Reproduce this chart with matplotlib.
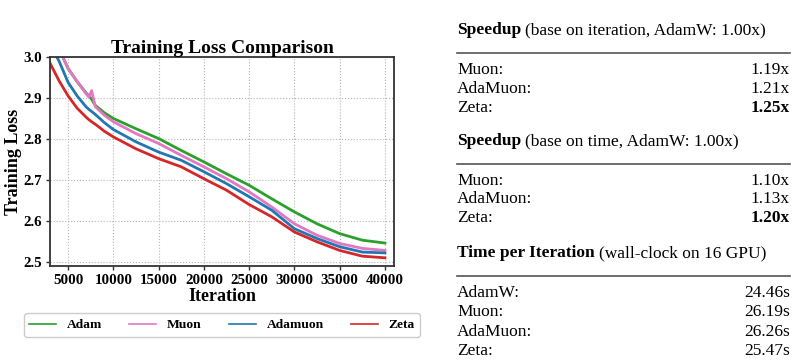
import matplotlib
matplotlib.use("Agg")
import matplotlib.pyplot as plt
from matplotlib.lines import Line2D

plt.rcParams['font.family'] = ['Liberation Serif', 'DejaVu Serif']

# ---------------- data ----------------
iterations = [3000, 4000, 5000, 6000, 7000, 7300, 7600, 8000, 9000, 10000, 12500, 15000,
              17500, 20000, 22500, 25000, 27500, 30000, 32500, 35000, 37500, 40000]
adam_loss = [3.09, 3.02, 2.972, 2.940, 2.912, 2.905, 2.897, 2.882, 2.864, 2.850, 2.825, 2.801,
             2.772, 2.744, 2.715, 2.687, 2.654, 2.622, 2.593, 2.569, 2.553, 2.546]
muon_loss = [3.09, 3.02, 2.972, 2.940, 2.910, 2.902, 2.918, 2.879, 2.858, 2.842, 2.813, 2.789,
             2.760, 2.732, 2.703, 2.671, 2.634, 2.593, 2.565, 2.545, 2.533, 2.528]
adamuon_loss = [3.03, 2.99, 2.938, 2.905, 2.878, 2.872, 2.867, 2.860, 2.840, 2.823, 2.793, 2.768,
                2.748, 2.720, 2.691, 2.659, 2.626, 2.581, 2.557, 2.537, 2.524, 2.522]
zeta_loss = [2.985, 2.942, 2.905, 2.875, 2.853, 2.847, 2.842, 2.836, 2.819, 2.805, 2.776, 2.752,
             2.732, 2.703, 2.675, 2.640, 2.610, 2.573, 2.549, 2.528, 2.514, 2.510]

series_names = ["Adam", "Muon", "Adamuon", "Zeta"]
series_colors = ["#2ca02c", "#e377c2", "#1f77b4", "#d62728"]
series_values = [adam_loss, muon_loss, adamuon_loss, zeta_loss]

x_ticks = [5000, 10000, 15000, 20000, 25000, 30000, 35000, 40000]
y_ticks = [2.5, 2.6, 2.7, 2.8, 2.9, 3.0]

speedup_iter_names = ["Muon:", "AdaMuon:", "Zeta:"]
speedup_iter_vals = ["1.19x", "1.21x", "1.25x"]
speedup_time_names = ["Muon:", "AdaMuon:", "Zeta:"]
speedup_time_vals = ["1.10x", "1.13x", "1.20x"]
time_names = ["AdamW:", "Muon:", "AdaMuon:", "Zeta:"]
time_vals = ["24.46s", "26.19s", "26.26s", "25.47s"]

W, H = 797, 362
fig = plt.figure(figsize=(W / 100, H / 100), dpi=100)

ax = fig.add_axes([50 / W, 1 - 266 / H, 344 / W, 209 / H])
for name, col, vals in zip(series_names, series_colors, series_values):
    ax.plot(iterations, vals, color=col, lw=2.0, solid_joinstyle='round')
ax.set_xlim(3000, 41000)
ax.set_ylim(2.49, 3.0)
ax.set_xticks(x_ticks)
ax.set_yticks(y_ticks)
ax.set_yticklabels([f"{v:.1f}" for v in y_ticks])
ax.grid(True, linestyle=':', color='#b5b5b5', lw=0.8)
ax.set_axisbelow(True)
for s in ax.spines.values():
    s.set_color('#333333')
    s.set_linewidth(1.3)
ax.tick_params(axis='both', length=3, width=1, color='#333333', pad=2.5, labelsize=10.8)
for lab in ax.get_xticklabels() + ax.get_yticklabels():
    lab.set_fontweight('bold')
ax.set_title("Training Loss Comparison", fontsize=14, fontweight='bold', pad=3)
ax.set_xlabel("Iteration", fontsize=13, fontweight='bold', labelpad=1)
ax.set_ylabel("Training Loss", fontsize=13, fontweight='bold', labelpad=1)

handles = [Line2D([], [], color=c, lw=1.2) for c in series_colors]
leg = ax.legend(handles, series_names, loc='center', ncol=4,
                bbox_to_anchor=(222 / W, 1 - 325 / H), bbox_transform=fig.transFigure,
                prop={'weight': 'bold', 'size': 9.7}, frameon=True, fancybox=True,
                edgecolor='#cccccc', framealpha=1.0)

# ---------------- right panel ----------------
xl, xr = 457, 790
fs = 12.5

def fy(p):
    return 1 - p / H

fig.canvas.draw()
renderer = fig.canvas.get_renderer()

def header(bold, normal, ycen):
    t = fig.text(xl / W, fy(ycen), bold, fontsize=fs, fontweight='bold', va='center', ha='left')
    bb = t.get_window_extent(renderer=renderer)
    fig.text((bb.x1 + 4) / W, fy(ycen), normal, fontsize=fs, va='center', ha='left')

def hline(ypix):
    fig.add_artist(Line2D([xl / W, xr / W], [fy(ypix), fy(ypix)], color='#555555', lw=1.2,
                          transform=fig.transFigure))

def rows(names, vals, ys, bold_last=False):
    for i, (n, v, yy) in enumerate(zip(names, vals, ys)):
        fig.text(xl / W, fy(yy), n, fontsize=fs, va='center', ha='left')
        w = 'bold' if (bold_last and i == len(names) - 1) else 'normal'
        fig.text(xr / W, fy(yy), v, fontsize=fs, va='center', ha='right', fontweight=w)

header("Speedup", "(base on iteration, AdamW: 1.00x)", 30)
hline(53)
rows(speedup_iter_names, speedup_iter_vals, [70, 89, 108], bold_last=True)

header("Speedup", "(base on time, AdamW: 1.00x)", 141)
hline(164)
rows(speedup_time_names, speedup_time_vals, [181, 199, 218], bold_last=True)

header("Time per Iteration", "(wall-clock on 16 GPU)", 253)
hline(276)
rows(time_names, time_vals, [293, 312, 332, 351])

fig.savefig("out.png", dpi=100)
